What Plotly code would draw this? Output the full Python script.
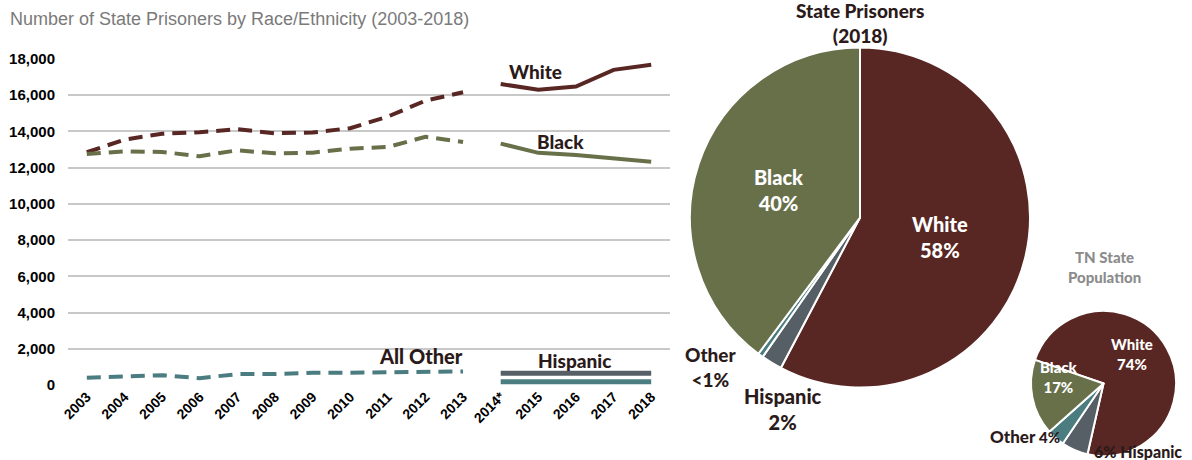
import plotly.graph_objects as go

W, H = 1192, 460

years = ["2003", "2004", "2005", "2006", "2007", "2008", "2009", "2010",
         "2011", "2012", "2013", "2014*", "2015", "2016", "2017", "2018"]
white = [12850, 13550, 13870, 13960, 14120, 13900, 13940, 14180,
         14820, 15700, 16160, 16620, 16300, 16480, 17400, 17680]
black = [12750, 12900, 12870, 12630, 12960, 12790, 12830, 13050,
         13140, 13700, 13420, 13330, 12820, 12700, 12510, 12330]
all_other = [400, 480, 540, 380, 600, 610, 680, 680, 700, 770, 750]
hispanic_post = [650, 650, 650, 650, 650]
other_post = [180, 180, 180, 180, 180]

pie_labels = ["White", "Hispanic", "Other", "Black"]
prison_pct = [58, 2, 0.5, 40]
pop_pct = [74, 6, 4, 17]

MAROON = "#582723"
OLIVE = "#68704a"
TEAL = "#4a7c80"
GRAY = "#575f66"
DARK = "#2b1a1a"
pie_colors = [MAROON, GRAY, TEAL, OLIVE]

pre = years[:11]
post = years[11:]

fig = go.Figure()
DASH = "14px,8px"
fig.add_trace(go.Scatter(x=pre, y=white[:11], mode="lines",
                         line=dict(color=MAROON, width=4, dash=DASH)))
fig.add_trace(go.Scatter(x=post, y=white[11:], mode="lines",
                         line=dict(color=MAROON, width=4)))
fig.add_trace(go.Scatter(x=pre, y=black[:11], mode="lines",
                         line=dict(color=OLIVE, width=4, dash=DASH)))
fig.add_trace(go.Scatter(x=post, y=black[11:], mode="lines",
                         line=dict(color=OLIVE, width=4)))
fig.add_trace(go.Scatter(x=pre, y=all_other, mode="lines",
                         line=dict(color=TEAL, width=4, dash=DASH)))
fig.add_trace(go.Scatter(x=post, y=hispanic_post, mode="lines",
                         line=dict(color=GRAY, width=5)))
fig.add_trace(go.Scatter(x=post, y=other_post, mode="lines",
                         line=dict(color=TEAL, width=5)))

def px_x(a, b):
    return [a / W, b / W]

def px_y(top, bottom):
    return [1 - bottom / H, 1 - top / H]

fig.add_trace(go.Pie(labels=pie_labels, values=prison_pct, sort=False,
                     direction="clockwise", rotation=0,
                     marker=dict(colors=pie_colors, line=dict(color="white", width=2)),
                     textinfo="none", hoverinfo="label+percent",
                     domain=dict(x=px_x(690, 1030), y=px_y(47, 388))))
fig.add_trace(go.Pie(labels=pie_labels, values=pop_pct, sort=False,
                     direction="clockwise", rotation=-71,
                     marker=dict(colors=pie_colors, line=dict(color="white", width=2)),
                     textinfo="none", hoverinfo="label+percent",
                     domain=dict(x=px_x(1031, 1176), y=px_y(311, 456))))

BOLD = "Lato, Arial"

def ann(x, y, text, size, color, xanchor="center"):
    fig.add_annotation(x=x / W, y=1 - y / H, xref="paper", yref="paper",
                       text=text, showarrow=False, xanchor=xanchor, yanchor="middle",
                       font=dict(family=BOLD, size=size, color=color, weight=900))

ann(535, 71, "White", 19, DARK)
ann(560, 141, "Black", 19, DARK)
ann(421, 356, "All Other", 20, DARK)
ann(574, 360, "Hispanic", 19, DARK)

ann(860, 23, "State Prisoners<br>(2018)", 19, DARK)
ann(940, 237, "White<br>58%", 20, "white")
ann(778, 190, "Black<br>40%", 20, "white")
ann(711, 367, "Other<br><1%", 19, DARK)
ann(783, 409, "Hispanic<br>2%", 20, DARK)

ann(1104, 267, "TN State<br>Population", 15, "#8c8c8c")
ann(1132, 354, "White<br>74%", 15, "white")
ann(1059, 377, "Black<br>17%", 15, "white")
ann(1025, 436, "Other <span style='font-size:15px'>4%</span>", 17, DARK)
ann(1138, 451, "6% Hispanic", 16, DARK)

fig.add_annotation(x=8 / W, y=1 - 19 / H, xref="paper", yref="paper",
                   text="Number of State Prisoners by Race/Ethnicity (2003-2018)",
                   showarrow=False, xanchor="left", yanchor="middle",
                   font=dict(family="Liberation Sans Narrow, Arial Narrow, Liberation Sans",
                             size=18, color="#7a7a7a"))

fig.update_layout(
    width=W, height=H, showlegend=False,
    margin=dict(l=0, r=0, t=0, b=0, autoexpand=False),
    paper_bgcolor="white", plot_bgcolor="white",
    xaxis=dict(domain=px_x(68, 670), type="category", categoryorder="array",
               categoryarray=years, range=[-0.5, 15.5], tickangle=-45, automargin=False,
               showgrid=False, showline=False, ticks="",
               tickfont=dict(family="Liberation Sans", size=14, color="black", weight="bold")),
    yaxis=dict(domain=px_y(59, 385), range=[0, 18000], tickvals=list(range(0, 18001, 2000)),
               tickformat=",d", showgrid=True, gridcolor="#c8c8c8", gridwidth=1.5,
               zeroline=False, showline=False, ticks="", ticklabelstandoff=12, automargin=False,
               tickfont=dict(family="Liberation Sans", size=15, color="black", weight="bold")),
)

fig.write_html("out.html", config={"displayModeBar": False},
               post_script="document.body.style.margin='0';document.body.style.overflow='hidden';")
